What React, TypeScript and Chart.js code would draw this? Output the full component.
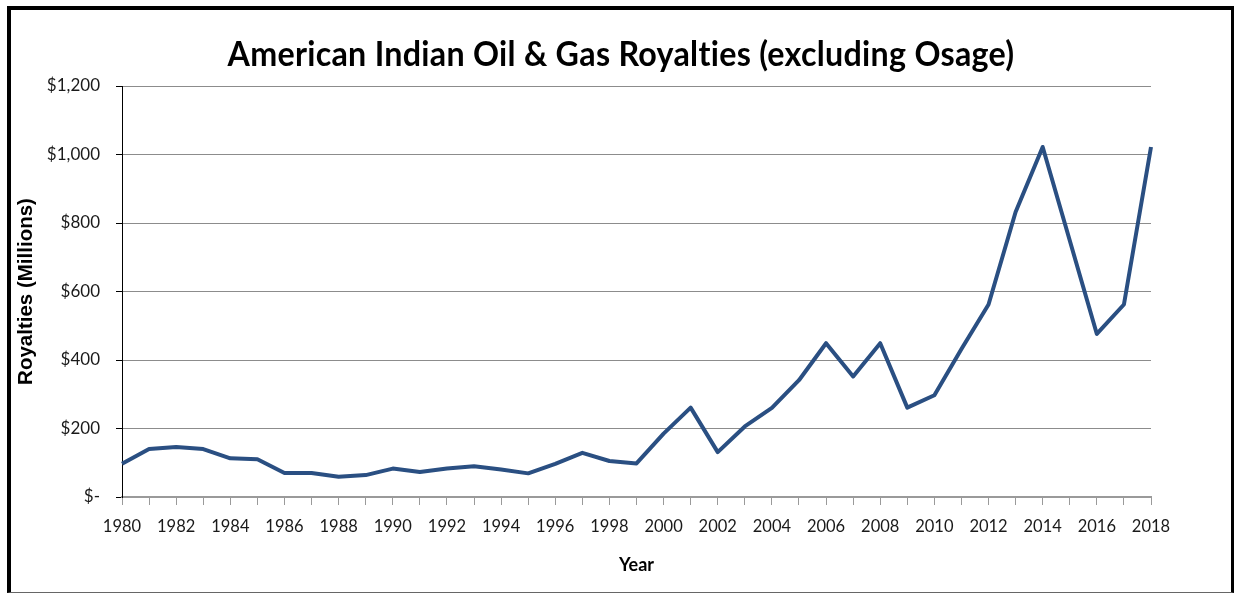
import React, { useEffect, useRef } from 'react';
import { Chart, registerables } from 'chart.js';

Chart.register(...registerables);

const TITLE = 'American Indian Oil & Gas Royalties (excluding Osage)';
const Y_TITLE = 'Royalties (Millions)';
const X_TITLE = 'Year';

const YEARS = [
  '1980', '1981', '1982', '1983', '1984', '1985', '1986', '1987', '1988', '1989',
  '1990', '1991', '1992', '1993', '1994', '1995', '1996', '1997', '1998', '1999',
  '2000', '2001', '2002', '2003', '2004', '2005', '2006', '2007', '2008', '2009',
  '2010', '2011', '2012', '2013', '2014', '2015', '2016', '2017', '2018',
];

const ROYALTIES = [
  97, 140, 146, 140, 113, 110, 70, 70, 59, 64,
  83, 73, 83, 90, 80, 69, 97, 129, 105, 98,
  185, 261, 131, 206, 260, 341, 449, 352, 449, 261,
  297, 432, 562, 832, 1022, 749, 476, 562, 1022,
];

const Y_MIN = 0;
const Y_MAX = 1200;
const Y_STEP = 200;

const LATO = 'Lato, "Open Sans", sans-serif';
const ARIAL = '"Liberation Sans", Arial, sans-serif';
const LINE_COLOR = '#2A4F82';

const titlePlugin = {
  id: 'frameTitle',
  afterDraw(chart: any) {
    const ctx = chart.ctx;
    ctx.save();
    ctx.font = `bold 35px ${LATO}`;
    try {
      (ctx as any).letterSpacing = '0.3px';
    } catch (e) {
      /* ignore */
    }
    const w = ctx.measureText(TITLE).width;
    const sx = 787 / w;
    ctx.fillStyle = '#000';
    ctx.textAlign = 'center';
    ctx.textBaseline = 'alphabetic';
    ctx.translate(621, 66);
    ctx.scale(sx, 1);
    ctx.fillText(TITLE, 0, 0);
    ctx.restore();
  },
};

export default function App() {
  const canvasRef = useRef<HTMLCanvasElement | null>(null);

  useEffect(() => {
    if (!canvasRef.current) return;
    const chart = new Chart(canvasRef.current, {
      type: 'line',
      data: {
        labels: YEARS,
        datasets: [
          {
            label: 'Royalties',
            data: ROYALTIES,
            borderColor: LINE_COLOR,
            backgroundColor: LINE_COLOR,
            borderWidth: 4,
            pointRadius: 0,
            pointHoverRadius: 0,
            tension: 0,
            fill: false,
            borderJoinStyle: 'round',
          },
        ],
      },
      plugins: [titlePlugin],
      options: {
        responsive: false,
        animation: false,
        devicePixelRatio: 1,
        layout: { padding: { top: 86, right: 84, left: 0, bottom: 0 } },
        plugins: {
          legend: { display: false },
          tooltip: { enabled: false },
          title: { display: false },
        },
        scales: {
          x: {
            type: 'category',
            offset: false,
            afterFit: (s: any) => {
              s.height = 97;
            },
            grid: {
              display: true,
              drawOnChartArea: false,
              drawTicks: true,
              tickLength: 8,
              tickColor: '#9a9a9a',
              color: '#9a9a9a',
            },
            border: { display: true, color: '#9a9a9a', width: 2 },
            ticks: {
              autoSkip: false,
              maxRotation: 0,
              minRotation: 0,
              padding: 12,
              color: '#1a1a1a',
              font: { family: LATO, size: 16.5 },
              callback: (_v: any, i: number) => (i % 2 === 0 ? YEARS[i] : ''),
            },
            title: {
              display: true,
              text: X_TITLE,
              color: '#000',
              font: { family: LATO, size: 18, weight: 'bold' },
              padding: { top: 0, bottom: 18 },
            },
          },
          y: {
            min: Y_MIN,
            max: Y_MAX,
            afterFit: (s: any) => {
              s.width = 122;
            },
            grid: {
              color: '#8c8c8c',
              tickColor: '#000',
              tickLength: 6,
              lineWidth: 1,
            },
            border: { display: true, color: '#000', width: 1 },
            ticks: {
              stepSize: Y_STEP,
              padding: 16,
              color: '#1a1a1a',
              font: { family: LATO, size: 17 },
              callback: (v: any) => (Number(v) === 0 ? '$-' : '$' + Number(v).toLocaleString('en-US')),
            },
            title: {
              display: true,
              text: Y_TITLE,
              color: '#000',
              font: { family: ARIAL, size: 20.5, weight: 'bold' },
              padding: { top: 14, bottom: 0 },
            },
          },
        },
      },
    } as any);
    return () => chart.destroy();
  }, []);

  return (
    <div style={{ position: 'fixed', left: 0, top: 0, width: 1235, height: 594, background: '#fff' }}>
      <div
        style={{
          position: 'absolute',
          left: 7,
          top: 6,
          width: 1227,
          height: 587,
          boxSizing: 'border-box',
          borderTop: '4px solid #000',
          borderLeft: '4px solid #000',
          borderRight: '3px solid #000',
          borderBottom: '1px solid #666',
        }}
      />
      <canvas
        ref={canvasRef}
        width={1235}
        height={594}
        style={{ position: 'absolute', left: 0, top: 0, width: 1235, height: 594, display: 'block' }}
      />
    </div>
  );
}
